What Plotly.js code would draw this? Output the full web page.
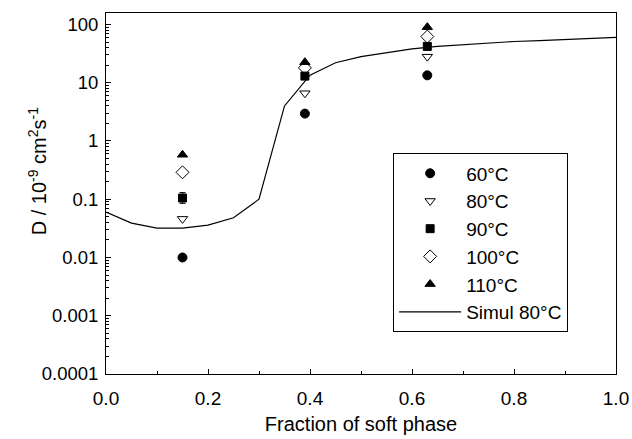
<!DOCTYPE html>
<html>
<head>
<meta charset="utf-8">
<script src="https://cdn.plot.ly/plotly-3.0.1.min.js"></script>
<style>html,body{margin:0;padding:0;background:#fff;}#chart{width:632px;height:439px;}</style>
</head>
<body>
<div id="chart"></div>
<script>
// Measured fractions of soft phase
var xMeas = [0.15, 0.39, 0.63];
var d60 = [0.010, 2.95, 13.4];
var d80 = [0.046, 6.6, 28];
var d90 = [0.105, 13, 42];
var d90ErrPlus = [0.025, 1.5, 3];
var d90ErrMinus = [0.02, 1.5, 3];
var d100 = [0.29, 18, 62];
var d110 = [0.58, 22.5, 90];

// Simulation at 80°C
var xSim = [0, 0.05, 0.1, 0.15, 0.2, 0.25, 0.3, 0.35, 0.4, 0.45, 0.5, 0.55, 0.6, 0.65, 0.7, 0.75, 0.8, 0.85, 0.9, 0.95, 1.0];
var dSim = [0.06, 0.039, 0.032, 0.032, 0.036, 0.048, 0.10, 4.0, 13.5, 22, 28, 33, 38, 42, 45, 48, 51, 53, 55, 57, 60];

// Axis labels
var yTickVals = [0.0001, 0.001, 0.01, 0.1, 1, 10, 100];
var yTickText = ['0.0001', '0.001', '0.01', '0.1', '1', '10', '100'];
var yTitle = 'D / 10<sup>-9</sup> cm<sup>2</sup>s<sup>-1</sup>';
var xTitle = 'Fraction of soft phase';

var font = 'Liberation Sans, Arial, sans-serif';

function meas(y, name, symbol, size, err) {
  var t = {
    x: xMeas, y: y, name: name, mode: 'markers', type: 'scatter',
    marker: {symbol: symbol, size: size, color: '#000', line: {color: '#000', width: 1}}
  };
  if (err) {
    t.error_y = {type: 'data', array: err[0], arrayminus: err[1], visible: true, color: '#000', thickness: 1, width: 3};
  }
  return t;
}

var traces = [
  meas(d60, '60°C', 'circle', 9),
  meas(d80, '80°C', 'triangle-down-open', 9),
  meas(d90, '90°C', 'square', 8, [d90ErrPlus, d90ErrMinus]),
  meas(d100, '100°C', 'diamond-open', 10),
  meas(d110, '110°C', 'triangle-up', 9),
  {x: xSim, y: dSim, name: 'Simul 80°C', mode: 'lines', type: 'scatter', line: {color: '#000', width: 1.2}}
];

var layout = {
  width: 632, height: 439,
  margin: {l: 106, r: 16, t: 12.5, b: 65},
  paper_bgcolor: '#fff', plot_bgcolor: '#fff',
  font: {family: font, size: 18, color: '#000'},
  showlegend: true,
  legend: {
    x: 0.563, y: 0.611, xanchor: 'left', yanchor: 'top',
    bordercolor: '#000', borderwidth: 1, bgcolor: '#fff',
    font: {family: font, size: 19, color: '#000'},
    itemwidth: 62,
    tracegroupgap: 0
  },
  xaxis: {
    range: [0, 1], dtick: 0.2, tickformat: '.1f',
    showline: true, mirror: true, linecolor: '#000', linewidth: 1,
    ticks: 'inside', ticklen: 5, tickcolor: '#000',
    minor: {ticks: 'inside', ticklen: 3, dtick: 0.1, tickcolor: '#000', showgrid: false},
    showgrid: false, zeroline: false,
    ticklabelstandoff: 7,
    tickfont: {family: font, size: 19},
    title: {text: xTitle, font: {family: font, size: 20}, standoff: 9}
  },
  yaxis: {
    type: 'log', range: [-4, 2.197],
    tickmode: 'array', tickvals: yTickVals, ticktext: yTickText,
    showline: true, mirror: true, linecolor: '#000', linewidth: 1,
    ticks: 'inside', ticklen: 5, tickcolor: '#000',
    minor: {ticks: 'inside', ticklen: 3, dtick: 'D1', tickcolor: '#000', showgrid: false},
    showgrid: false, zeroline: false,
    ticklabelstandoff: 3,
    tickfont: {family: font, size: 18.5}
  },
  annotations: [{
    text: yTitle, xref: 'paper', yref: 'paper', x: -0.135, y: 0.562,
    xanchor: 'center', yanchor: 'middle', textangle: -90, showarrow: false,
    font: {family: font, size: 20, color: '#000'}
  }]
};

Plotly.newPlot('chart', traces, layout, {displayModeBar: false, staticPlot: true});
</script>
</body>
</html>
